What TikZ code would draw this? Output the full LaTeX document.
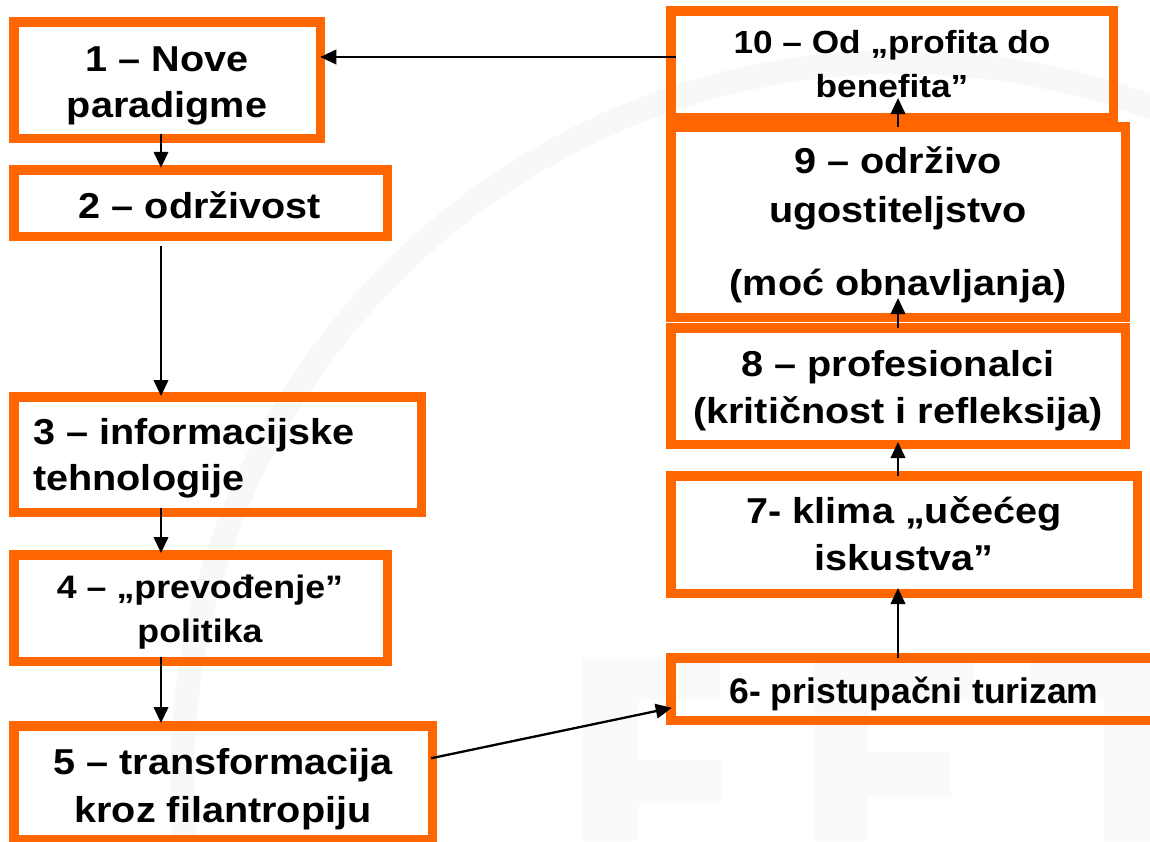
\documentclass[tikz,border=0pt]{standalone}
\usepackage{fontspec}
\setmainfont{Liberation Sans}
\newfontfamily\wf{Liberation Sans}[FakeStretch=1.1]
\usetikzlibrary{arrows.meta,calc}
\definecolor{org}{HTML}{FF6600}
\definecolor{wmarc}{HTML}{F8F8F8}
\definecolor{wmlet}{HTML}{FAFAFA}
\begin{document}
\begin{tikzpicture}[x=1pt,y=-1pt,
  box/.style={draw=org, line width=9.5pt, inner sep=0pt, outer sep=0pt},
  lbl/.style={inner sep=0pt, align=center, anchor=base, font=\fontsize{36}{46}\wf\bfseries},
  arr/.style={draw=black, line width=2.3pt, -{Triangle[length=16pt,width=14.5pt]}}]
\useasboundingbox (0,0) rectangle (1150,841);
\clip (0,0) rectangle (1150,841);
\fill[white] (0,0) rectangle (1150,841);
% faint watermark
\draw[wmarc, line width=24pt] (900,780) circle (718);
\fill[wmlet] (582,657) rectangle (639,841);
\fill[wmlet] (582,657) rectangle (720,700);
\fill[wmlet] (639,760) rectangle (722,803);
\fill[wmlet] (815,657) rectangle (868,841);
\fill[wmlet] (815,657) rectangle (974,700);
\fill[wmlet] (868,752) rectangle (951,797);
\fill[wmlet] (1031,657) rectangle (1150,700);
\fill[wmlet] (1104,657) rectangle (1150,841);
% boxes
\node[box, minimum width=306.5pt, minimum height=116.5pt] (b1) at (167,80) {};
\node[box, minimum width=373.5pt, minimum height=66.5pt] (b2) at (200.5,203) {};
\node[box, minimum width=407.5pt, minimum height=115.5pt] (b3) at (217.5,454.5) {};
\node[box, minimum width=373.5pt, minimum height=106.5pt] (b4) at (200.5,608) {};
\node[box, minimum width=418.5pt, minimum height=113.5pt] (b5) at (223,782.5) {};
\node[box, minimum width=489.5pt, minimum height=62.5pt] (b6) at (915.5,689) {};
\node[box, minimum width=466.5pt, minimum height=117.5pt] (b7) at (904,534.5) {};
\node[box, minimum width=454.5pt, minimum height=116.5pt] (b8) at (898,386) {};
\node[box, minimum width=454.5pt, minimum height=190.5pt] (b9) at (898,222) {};
\node[box, minimum width=442.5pt, minimum height=106.5pt] (b10) at (892,64) {};
% texts (anchor = baseline of last line)
\node[lbl] (t1) at (167,117) {1 – Nove\\paradigme};
\node[lbl] (t2) at (200,218) {2 – održivost};
\node[lbl, align=left, anchor=base west] (t3) at (33,490) {3 – informacijske\\tehnologije};
\node[lbl, font=\fontsize{32.5}{44}\wf\bfseries] (t4) at (200,642) {4 – „prevođenje”\\politika};
\node[lbl, font=\fontsize{36}{48}\wf\bfseries] (t5) at (223,822) {5 – transformacija\\kroz filantropiju};
\node[lbl, font=\fontsize{35.5}{44}\selectfont\bfseries] (t6) at (914,703) {6- pristupačni turizam};
\node[lbl, font=\fontsize{36}{47}\wf\bfseries] (t7) at (904,570) {7- klima „učećeg\\iskustva”};
\node[lbl, font=\fontsize{36}{47}\wf\bfseries] (t8) at (898,423) {8 – profesionalci\\(kritičnost i refleksija)};
\node[lbl, font=\fontsize{36}{49}\wf\bfseries] (t9) at (898,295) {9 – održivo\\ugostiteljstvo\\[24pt](moć obnavljanja)};
\node[lbl, font=\fontsize{32}{44}\wf\bfseries] (t10) at (892,97) {10 – Od „profita do\\benefita”};
% connectors
\coordinate (colL) at (161,0);
\coordinate (colR) at (898,0);
\coordinate (rowT) at (0,57);
\coordinate (s56) at (0,758);
\coordinate (e56) at (0,708);
\draw[arr, shorten <=-4.75pt] (b10.west |- rowT) -- (b1.east |- rowT);
\draw[arr, shorten <=-4.75pt, shorten >=2pt] (b1.south -| colL) -- (b2.north -| colL);
\draw[arr, shorten <=9.75pt, shorten >=0.75pt] (b2.south -| colL) -- (b3.north -| colL);
\draw[arr, shorten <=-4.75pt, shorten >=1.75pt] (b3.south -| colL) -- (b4.north -| colL);
\draw[arr, shorten <=-4.75pt, shorten >=2.75pt] (b4.south -| colL) -- (b5.north -| colL);
\draw[arr, shorten <=-1pt, shorten >=-1pt] (b5.east |- s56) -- (b6.west |- e56);
\draw[arr, shorten >=-5.25pt] (b6.north -| colR) -- (b7.south -| colR);
\draw[arr, shorten >=-2.25pt] (b7.north -| colR) -- (b8.south -| colR);
\draw[arr, shorten >=-19.25pt] (b8.north -| colR) -- (b9.south -| colR);
\draw[arr, shorten >=-19.25pt] (b9.north -| colR) -- (b10.south -| colR);
\end{tikzpicture}
\end{document}
